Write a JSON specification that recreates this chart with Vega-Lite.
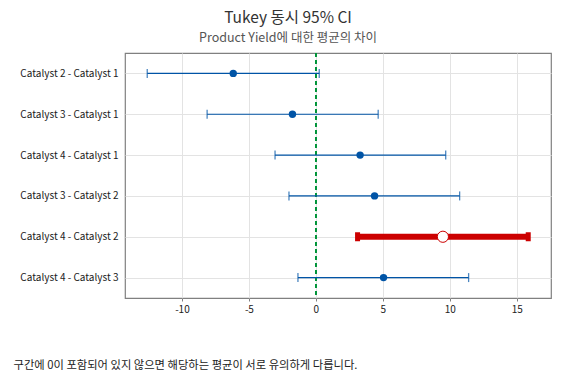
{
  "$schema": "https://vega.github.io/schema/vega-lite/v6.json",
  "width": 426,
  "height": 245,
  "autosize": {"type": "none"},
  "padding": {"left": 125, "top": 53, "right": 25, "bottom": 86},
  "background": "white",
  "title": {
    "text": "Tukey 동시 95% CI",
    "subtitle": "Product Yield에 대한 평균의 차이",
    "anchor": "middle",
    "frame": "group",
    "dx": -50,
    "offset": 8,
    "font": "Noto Sans CJK KR",
    "fontSize": 15.5,
    "fontWeight": "normal",
    "color": "#333333",
    "subtitleFont": "Noto Sans CJK KR",
    "subtitleFontSize": 12.5,
    "subtitleColor": "#555555",
    "subtitlePadding": 5
  },
  "data": {
    "values": [
      {"comparison": "Catalyst 2 - Catalyst 1", "lower": -12.59, "center": -6.17, "upper": 0.25, "sig": "no"},
      {"comparison": "Catalyst 3 - Catalyst 1", "lower": -8.12, "center": -1.75, "upper": 4.65, "sig": "no"},
      {"comparison": "Catalyst 4 - Catalyst 1", "lower": -3.05, "center": 3.3, "upper": 9.69, "sig": "no"},
      {"comparison": "Catalyst 3 - Catalyst 2", "lower": -2.01, "center": 4.38, "upper": 10.73, "sig": "no"},
      {"comparison": "Catalyst 4 - Catalyst 2", "lower": 3.11, "center": 9.48, "upper": 15.85, "sig": "yes"},
      {"comparison": "Catalyst 4 - Catalyst 3", "lower": -1.34, "center": 5.05, "upper": 11.4, "sig": "no"}
    ]
  },
  "encoding": {
    "y": {
      "field": "comparison",
      "type": "nominal",
      "sort": null,
      "scale": {
        "type": "point",
        "padding": 0.5,
        "domain": ["Catalyst 2 - Catalyst 1", "Catalyst 3 - Catalyst 1", "Catalyst 4 - Catalyst 1", "Catalyst 3 - Catalyst 2", "Catalyst 4 - Catalyst 2", "Catalyst 4 - Catalyst 3"]
      },
      "axis": {
        "title": null,
        "domain": false,
        "ticks": false,
        "labelPadding": 7,
        "labelFont": "Noto Sans CJK KR",
        "labelFontSize": 10,
        "labelColor": "#222222",
        "grid": true,
        "gridColor": "#e3e3e3"
      }
    }
  },
  "layer": [
    {
      "mark": {"type": "rule", "color": "#00953a", "strokeDash": [4, 3], "strokeWidth": 1.2},
      "encoding": {
        "x": {
          "datum": 0,
          "type": "quantitative",
          "scale": {"domain": [-14.25, 17.55], "nice": false, "zero": false},
          "axis": {
            "values": [-10, -5, 0, 5, 10, 15],
            "labelExpr": "'' + datum.value",
            "grid": true,
            "gridColor": "#e3e3e3",
            "domain": false,
            "ticks": true,
            "tickSize": 3,
            "tickColor": "#808080",
            "labelPadding": 3,
            "labelFont": "Noto Sans CJK KR",
            "labelFontSize": 10,
            "labelColor": "#222222",
            "title": "구간에 0이 포함되어 있지 않으면 해당하는 평균이 서로 유의하게 다릅니다.",
            "titleFont": "Noto Sans CJK KR",
            "titleFontSize": 11.3,
            "titleFontWeight": "normal",
            "titleColor": "#222222",
            "titleX": -112,
            "titleY": 70,
            "titleAlign": "left",
            "titleAnchor": "start",
            "titleBaseline": "alphabetic"
          }
        },
        "y": null
      }
    },
    {
      "transform": [{"filter": "datum.sig == 'no'"}],
      "mark": {"type": "rule", "color": "#0054a6", "strokeWidth": 1.2},
      "encoding": {
        "x": {"field": "lower", "type": "quantitative"},
        "x2": {"field": "upper"}
      }
    },
    {
      "transform": [
        {"filter": "datum.sig == 'no'"},
        {"fold": ["lower", "upper"], "as": ["end", "value"]}
      ],
      "mark": {"type": "tick", "color": "#0054a6", "size": 9, "thickness": 1.3},
      "encoding": {
        "x": {"field": "value", "type": "quantitative"}
      }
    },
    {
      "transform": [{"filter": "datum.sig == 'no'"}],
      "mark": {"type": "point", "shape": "circle", "filled": true, "color": "#0054a6", "size": 55, "opacity": 1},
      "encoding": {
        "x": {"field": "center", "type": "quantitative"}
      }
    },
    {
      "transform": [{"filter": "datum.sig == 'yes'"}],
      "mark": {"type": "rule", "color": "#cc0000", "strokeWidth": 6},
      "encoding": {
        "x": {"field": "lower", "type": "quantitative"},
        "x2": {"field": "upper"}
      }
    },
    {
      "transform": [
        {"filter": "datum.sig == 'yes'"},
        {"fold": ["lower", "upper"], "as": ["end", "value"]}
      ],
      "mark": {"type": "tick", "color": "#cc0000", "size": 9, "thickness": 5, "opacity": 1},
      "encoding": {
        "x": {"field": "value", "type": "quantitative"}
      }
    },
    {
      "transform": [{"filter": "datum.sig == 'yes'"}],
      "mark": {"type": "point", "shape": "circle", "filled": false, "fill": "white", "fillOpacity": 1, "stroke": "#cc0000", "strokeWidth": 1, "size": 125, "opacity": 1},
      "encoding": {
        "x": {"field": "center", "type": "quantitative"}
      }
    }
  ],
  "config": {
    "view": {"stroke": "#808080", "strokeWidth": 1.2},
    "axis": {"gridWidth": 1}
  }
}
